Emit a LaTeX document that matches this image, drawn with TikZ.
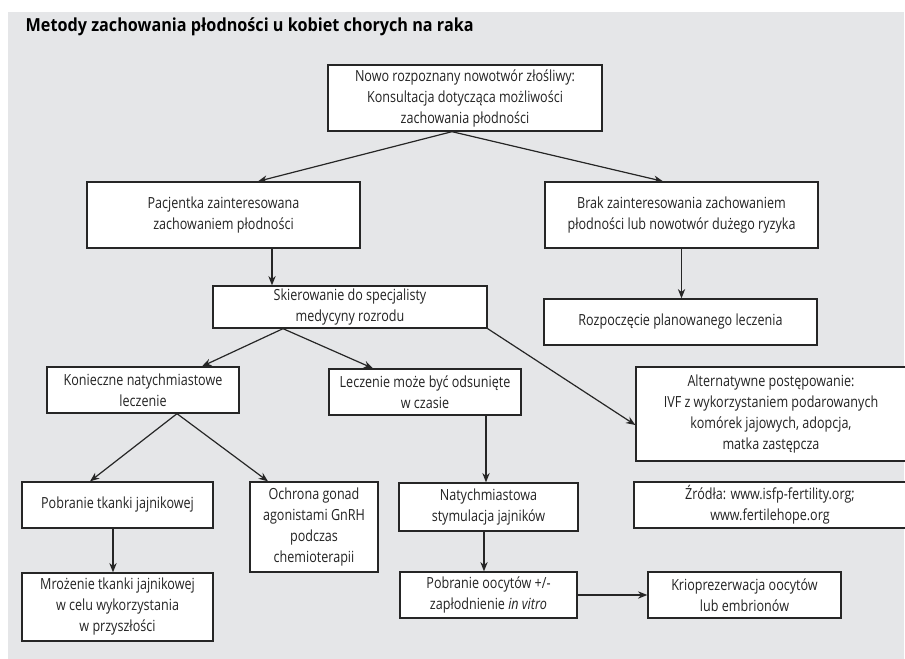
\documentclass[tikz,border=0pt]{standalone}
\usepackage{fontspec}
\setmainfont{Open Sans}[FakeStretch=0.82]
\newfontfamily\titlefont{Open Sans}[FakeStretch=0.9]
\usetikzlibrary{arrows.meta, calc}
\definecolor{bggray}{RGB}{229,230,232}
\definecolor{txtgray}{RGB}{35,35,35}

\begin{document}
\begin{tikzpicture}[
    x=0.75pt, y=-0.75pt,
    box/.style={rectangle, draw=black!85, line width=1pt, fill=white, align=center, inner sep=0pt, text=txtgray, font=\fontsize{11.5}{15.75}\selectfont},
    arrow/.style={-{Stealth[length=7pt, width=5.5pt]}, line width=0.9pt, draw=black!85},
]
\useasboundingbox (0,0) rectangle (905,659);
\fill[bggray] (8,12) rectangle (904,659);

\node[anchor=base west, font=\titlefont\fontsize{13.5}{16}\selectfont\bfseries] (title) at (21,32) {Metody zachowania płodności u kobiet chorych na raka};

% top level
\node[box, minimum width=205.5pt, minimum height=49.5pt] (diag) at (465,98) {Nowo rozpoznany nowotwór złośliwy:\\Konsultacja dotycząca możliwości\\zachowania płodności};
\node[box, minimum width=204.75pt, minimum height=49.5pt] (pac) at (223.5,215) {Pacjentka zainteresowana\\zachowaniem płodności};
\node[box, minimum width=204.75pt, minimum height=49.5pt] (brak) at (681.5,215) {Brak zainteresowania zachowaniem\\płodności lub nowotwór dużego ryzyka};
\node[box, minimum width=205.5pt, minimum height=31.5pt] (skier) at (350,307) {Skierowanie do specjalisty\\medycyny rozrodu};
\node[box, minimum width=204.75pt, minimum height=34.5pt] (rozp) at (680.5,322) {Rozpoczęcie planowanego leczenia};

% second level
\node[box, minimum width=144pt, minimum height=34.5pt] (konieczne) at (143,390) {Konieczne natychmiastowe\\leczenie};
\node[box, minimum width=144pt, minimum height=34.5pt] (odsuniete) at (425,392) {Leczenie może być odsunięte\\w czasie};
\node[box, minimum width=202.5pt, minimum height=70.5pt] (alt) at (771,414) {Alternatywne postępowanie:\\IVF z wykorzystaniem podarowanych\\komórek jajowych, adopcja,\\matka zastępcza};
\node[box, minimum width=204pt, minimum height=34.5pt] (zrodla) at (770,505) {Źródła: www.isfp-fertility.org;\\www.fertilehope.org};

% third level
\node[box, minimum width=143.25pt, minimum height=34.5pt] (tkanka) at (117.5,505) {Pobranie tkanki jajnikowej};
\node[box, minimum width=143.25pt, minimum height=51pt] (mrozenie) at (117.5,607) {Mrożenie tkanki jajnikowej\\w celu wykorzystania\\w przyszłości};
\node[box, minimum width=96pt, minimum height=67.5pt] (ochrona) at (314,527) {Ochrona gonad\\agonistami GnRH\\podczas\\chemioterapii};
\node[box, minimum width=134.25pt, minimum height=36pt] (stymul) at (488.5,507) {Natychmiastowa\\stymulacja jajników};
\node[box, minimum width=132.75pt, minimum height=34.5pt] (oocyty) at (488.5,595) {Pobranie oocytów +/-\\zapłodnienie \textit{in vitro}};
\node[box, minimum width=144.75pt, minimum height=34.5pt] (krio) at (744.5,595) {Krioprezerwacja oocytów\\lub embrionów};

\draw[arrow] ($(diag.south)+(-13,0)$) -- ($(pac.north)+(34.5,0)$);
\draw[arrow] ($(diag.south)+(-13,0)$) -- ($(brak.north)+(-18.5,0)$);
\draw[arrow] ($(pac.south)+(48.5,0)$) -- ($(skier.north)+(-78,0)$);
\draw[arrow] (brak.south) -- (brak.south |- rozp.north);
\draw[arrow] ($(skier.south)+(-67,0)$) -- ($(konieczne.north)+(59,0)$);
\draw[arrow] ($(skier.south)+(-67,0)$) -- ($(odsuniete.north)+(-52,0)$);
\draw[arrow] (skier.south east) -- ($(alt.west)+(0,11)$);
\draw[arrow] ($(konieczne.south)+(34,0)$) -- ($(tkanka.north)+(-27.5,0)$);
\draw[arrow] ($(konieczne.south)+(34,0)$) -- ($(ochrona.north)+(-46,0)$);
\draw[arrow] ($(tkanka.south)+(-4.5,0)$) -- ($(mrozenie.north)+(-4.5,0)$);
\draw[arrow] ($(odsuniete.south)+(61,0)$) -- ($(stymul.north)+(-2.5,0)$);
\draw[arrow] ($(stymul.south)+(-4.5,0)$) -- ($(oocyty.north)+(-4.5,0)$);
\draw[arrow] (oocyty.east) -- (krio.west);

\end{tikzpicture}
\end{document}
